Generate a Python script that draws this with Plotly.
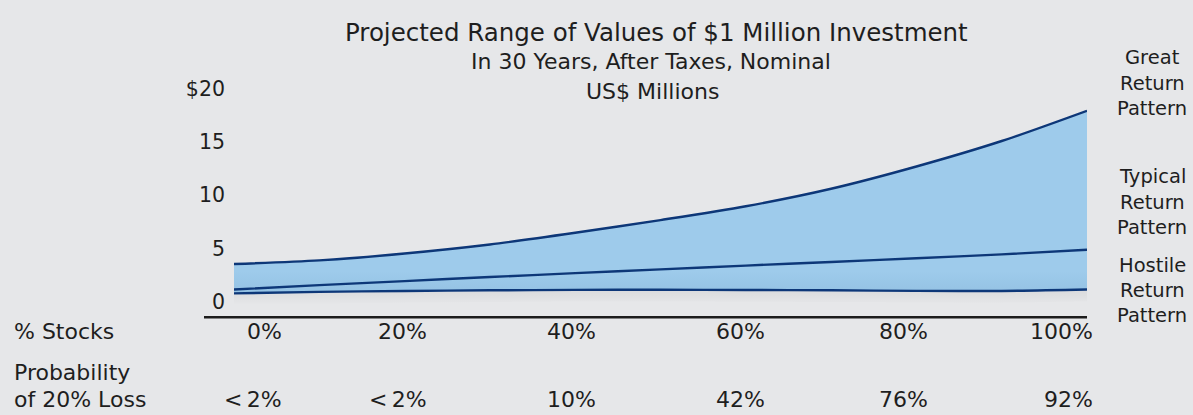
import plotly.graph_objects as go

# ---- data -------------------------------------------------------------
stocks_pct = [0, 10, 20, 30, 40, 50, 60, 70, 80, 90, 100]

# Projected value of $1 million after 30 years (US$ millions)
great_return = [3.81, 4.15, 4.80, 5.65, 6.75, 7.95, 9.25, 10.90, 13.00, 15.40, 18.25]
typical_return = [1.41, 1.82, 2.20, 2.58, 2.95, 3.30, 3.66, 4.00, 4.35, 4.72, 5.15]
hostile_return = [1.04, 1.18, 1.27, 1.33, 1.37, 1.38, 1.36, 1.33, 1.28, 1.27, 1.40]

y_tick_vals = [0, 5, 10, 15, 20]
y_tick_text = ["0", "5", "10", "15", "$20"]

stock_labels = ["0%", "20%", "40%", "60%", "80%", "100%"]
loss_prob_labels = ["<\u20092%", "<\u20092%", "10%", "42%", "76%", "92%"]

pattern_labels = [["Great", "Return", "Pattern"],
                  ["Typical", "Return", "Pattern"],
                  ["Hostile", "Return", "Pattern"]]

# ---- layout helpers (figure pixel -> paper fraction) ------------------
W, H = 1193, 415
FONT = "DejaVu Sans"
TXT = "#1e1e1e"
LINE = "#0d3778"
BG = "#e6e7e9"


def px(x):
    return x / W


def py(y):
    return 1 - y / H


SPLINE = dict(shape="spline", smoothing=0.8)

fig = go.Figure()

# soft drop shadow under the band
fig.add_trace(go.Scatter(x=stocks_pct, y=[v - 1.1 for v in hostile_return], mode="lines",
                         line=dict(width=0, **SPLINE), hoverinfo="skip", showlegend=False))
fig.add_trace(go.Scatter(x=stocks_pct, y=[v - 0.1 for v in hostile_return], mode="lines",
                         line=dict(width=0, **SPLINE), fill="tonexty",
                         fillgradient=dict(type="vertical",
                                           colorscale=[[0, "rgba(0,0,0,0)"],
                                                       [1, "rgba(0,0,0,0.05)"]]),
                         hoverinfo="skip", showlegend=False))

# shaded band between hostile and great outcomes
fig.add_trace(go.Scatter(x=stocks_pct, y=hostile_return, mode="lines",
                         line=dict(width=0, **SPLINE),
                         hoverinfo="skip", showlegend=False))
fig.add_trace(go.Scatter(x=stocks_pct, y=great_return, mode="lines",
                         line=dict(width=0, **SPLINE),
                         fill="tonexty",
                         fillgradient=dict(type="vertical", start=0.8, stop=3.5,
                                           colorscale=[[0, "#91bfe1"], [1, "#9ecbeb"]]),
                         hoverinfo="skip", showlegend=False))

# outcome lines
for series in (great_return, typical_return, hostile_return):
    fig.add_trace(go.Scatter(x=stocks_pct, y=series, mode="lines",
                             line=dict(color=LINE, width=2.4, **SPLINE),
                             hoverinfo="skip", showlegend=False))

annotations = []

# title block
annotations.append(dict(text="Projected Range of Values of $1 Million Investment",
                        x=px(656), y=py(24), font=dict(size=24.5)))
annotations.append(dict(text="In 30 Years, After Taxes, Nominal",
                        x=px(651), y=py(54), font=dict(size=22)))
annotations.append(dict(text="US$ Millions",
                        x=px(652), y=py(84), font=dict(size=22)))

# outcome pattern labels on the right
for words, ys in zip(pattern_labels, [[50, 76, 102], [171, 198, 223], [262, 288, 313]]):
    for word, yc in zip(words, ys):
        annotations.append(dict(text=word, x=px(1152), y=py(yc), font=dict(size=19.5)))

# table rows under the chart
annotations.append(dict(text="% Stocks", x=px(12), y=py(330), xanchor="left",
                        font=dict(size=22)))
annotations.append(dict(text="Probability", x=px(12), y=py(372), xanchor="left",
                        font=dict(size=22)))
annotations.append(dict(text="of 20% Loss", x=px(12), y=py(399), xanchor="left",
                        font=dict(size=22)))

col_right_edges = [284, 429, 598, 767, 930, 1095]
for xr, s_lab, p_lab in zip(col_right_edges, stock_labels, loss_prob_labels):
    annotations.append(dict(text=s_lab, x=px(xr), y=py(330), xanchor="right",
                            font=dict(size=22)))
    annotations.append(dict(text=p_lab, x=px(xr), y=py(399), xanchor="right",
                            font=dict(size=22)))

for a in annotations:
    a.setdefault("xref", "paper")
    a.setdefault("yref", "paper")
    a.setdefault("xanchor", "center")
    a.setdefault("yanchor", "middle")
    a.setdefault("showarrow", False)
    a["font"] = dict(family=FONT, color=TXT, **a["font"])

fig.update_layout(
    width=W, height=H, autosize=False,
    margin=dict(l=0, r=0, t=0, b=0, pad=0),
    paper_bgcolor=BG, plot_bgcolor=BG,
    font=dict(family=FONT, color=TXT),
    annotations=annotations,
    shapes=[dict(type="line", xref="paper", yref="paper",
                 x0=px(204), x1=px(1087), y0=py(315), y1=py(315),
                 line=dict(color="#1c1c1c", width=2.5))],
    xaxis=dict(domain=[px(234), px(1087)], range=[0, 100], visible=False,
               fixedrange=True),
    yaxis=dict(domain=[py(315), py(79.6)], range=[-1.2, 20.5],
               tickvals=y_tick_vals, ticktext=y_tick_text,
               showgrid=False, zeroline=False, showline=False, ticks="",
               ticklabelstandoff=8, ticklabelshift=-3,
               tickfont=dict(family=FONT, size=20.5, color=TXT),
               fixedrange=True),
)

fig.write_html("out.html")
